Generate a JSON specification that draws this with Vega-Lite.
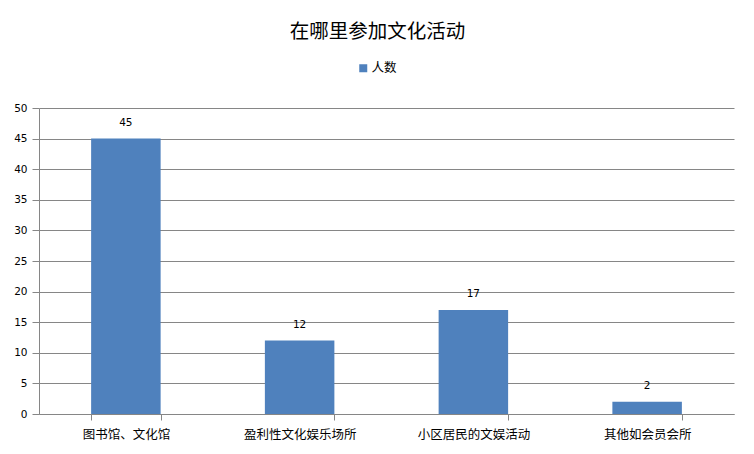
{
  "$schema": "https://vega.github.io/schema/vega-lite/v6.json",
  "width": 695,
  "height": 306,
  "autosize": {"type": "none"},
  "padding": {"left": 39, "top": 108, "right": 20, "bottom": 40},
  "background": "white",
  "title": {
    "text": "在哪里参加文化活动",
    "font": "Noto Sans CJK SC",
    "fontSize": 19.5,
    "fontWeight": "normal",
    "color": "#000000",
    "anchor": "middle",
    "dx": -9,
    "offset": 20
  },
  "data": {
    "values": [
      {"place": "图书馆、文化馆", "series": "人数", "count": 45},
      {"place": "盈利性文化娱乐场所", "series": "人数", "count": 12},
      {"place": "小区居民的文娱活动", "series": "人数", "count": 17},
      {"place": "其他如会员会所", "series": "人数", "count": 2}
    ]
  },
  "encoding": {
    "x": {
      "field": "place",
      "type": "nominal",
      "sort": null,
      "scale": {"paddingInner": 0.6, "paddingOuter": 0.3},
      "axis": {
        "title": null,
        "labelAngle": 0,
        "labelFont": "Noto Sans CJK SC",
        "labelFontSize": 12.5,
        "labelColor": "#000000",
        "labelPadding": 8,
        "domainColor": "#868686",
        "tickColor": "#868686",
        "tickSize": 6,
        "tickBand": "extent",
        "grid": false
      }
    },
    "y": {
      "field": "count",
      "type": "quantitative",
      "scale": {"domain": [0, 50], "nice": false},
      "axis": {
        "title": null,
        "values": [0, 5, 10, 15, 20, 25, 30, 35, 40, 45, 50],
        "labelFont": "DejaVu Sans",
        "labelFontSize": 10.5,
        "labelColor": "#000000",
        "labelPadding": 5,
        "domainColor": "#868686",
        "tickColor": "#868686",
        "tickSize": 7,
        "gridColor": "#868686",
        "gridOpacity": 1,
        "grid": true
      }
    }
  },
  "layer": [
    {
      "mark": {"type": "bar", "color": "#4F81BD"},
      "encoding": {
        "color": {
          "field": "series",
          "type": "nominal",
          "scale": {"range": ["#4F81BD"]},
          "legend": {
            "title": null,
            "orient": "none",
            "legendX": 318,
            "legendY": -46,
            "symbolType": "square",
            "symbolSize": 64,
            "symbolStrokeWidth": 0,
            "labelFont": "Noto Sans CJK SC",
            "labelFontSize": 12.5,
            "labelColor": "#000000",
            "labelOffset": 2
          }
        }
      }
    },
    {
      "mark": {
        "type": "text",
        "baseline": "middle",
        "dy": -16,
        "font": "DejaVu Sans",
        "fontSize": 10.5,
        "color": "#000000"
      },
      "encoding": {"text": {"field": "count", "type": "quantitative"}}
    }
  ],
  "config": {
    "view": {"stroke": null}
  }
}
